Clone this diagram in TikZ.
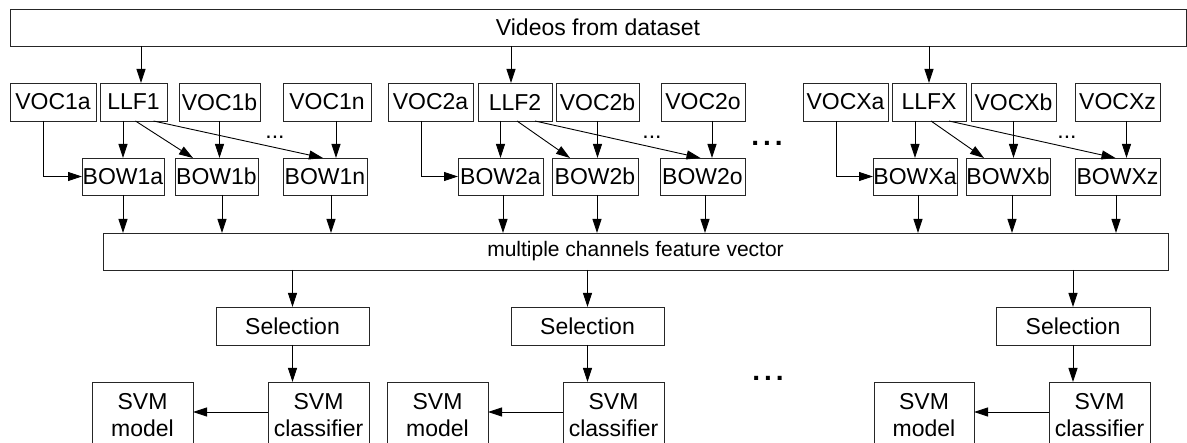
\documentclass[tikz,border=0pt]{standalone}
\usepackage{fontspec}
\setmainfont{Liberation Sans}
\usetikzlibrary{arrows.meta,calc}

\tikzset{
  box/.style={draw=black!85, line width=0.9pt, rectangle, anchor=north west,
    inner sep=0pt, outer sep=0pt, align=center,
    font=\fontsize{23}{27}\selectfont},
  arr/.style={draw=black, line width=0.9pt, -{Triangle[length=14pt,width=9pt]}},
  smalldots/.style={inner sep=0pt, font=\fontsize{23}{27}\selectfont},
  bigdots/.style={inner sep=0pt, font=\fontsize{28}{30}\selectfont\bfseries},
}
% box: name, left, top, width, height, text
\newcommand\boxat[6]{\node[box, minimum width=#4pt, minimum height=#5pt] (#1) at (#2,#3) {#6};}

\begin{document}
\begin{tikzpicture}[x=1pt,y=-1pt]
\useasboundingbox (0,0) rectangle (1187,443);
\clip (0,0) rectangle (1187,443);

% source
\boxat{videos}{10}{9}{1176}{37}{Videos from dataset}

% vocabularies and low-level features
\boxat{voc1a}{10}{83}{86}{38}{VOC1a}
\boxat{llf1}{100}{83}{67}{38}{LLF1}
\boxat{voc1b}{179}{83}{81}{38}{VOC1b}
\boxat{voc1n}{283}{83}{88}{38}{VOC1n}
\boxat{voc2a}{388}{83}{85}{38}{VOC2a}
\boxat{llf2}{478}{83}{74}{38}{LLF2}
\boxat{voc2b}{556}{83}{83}{38}{VOC2b}
\boxat{voc2o}{661}{83}{84}{38}{VOC2o}
\boxat{vocxa}{803}{83}{85}{38}{VOCXa}
\boxat{llfx}{892}{83}{74}{38}{LLFX}
\boxat{vocxb}{971}{83}{85}{38}{VOCXb}
\boxat{vocxz}{1075}{83}{85}{38}{VOCXz}

% bags of words
\boxat{bow1a}{82}{158}{82}{37}{BOW1a}
\boxat{bow1b}{175}{158}{83}{37}{BOW1b}
\boxat{bow1n}{283}{158}{84}{37}{BOW1n}
\boxat{bow2a}{458}{158}{85}{37}{BOW2a}
\boxat{bow2b}{552}{158}{86}{37}{BOW2b}
\boxat{bow2o}{660}{158}{85}{37}{BOW2o}
\boxat{bowxa}{873}{158}{84}{37}{BOWXa}
\boxat{bowxb}{966}{158}{84}{37}{BOWXb}
\boxat{bowxz}{1075}{158}{85}{37}{BOWXz}

% combined vector
\node[box, minimum width=1065pt, minimum height=37pt, font=\fontsize{21}{25}\selectfont]
  (mc) at (103,233) {multiple channels feature vector};

% selection and classifiers
\boxat{sel1}{216}{307}{153}{38}{Selection}
\boxat{sel2}{511}{307}{153}{38}{Selection}
\boxat{sel3}{996}{307}{154}{38}{Selection}
\boxat{svmm1}{92}{382}{101}{66}{SVM\\model}
\boxat{svmc1}{268}{382}{101}{66}{SVM\\classifier}
\boxat{svmm2}{387}{382}{101}{66}{SVM\\model}
\boxat{svmc2}{563}{382}{101}{66}{SVM\\classifier}
\boxat{svmm3}{874}{382}{100}{66}{SVM\\model}
\boxat{svmc3}{1049}{382}{101}{66}{SVM\\classifier}

% ellipses
\node[smalldots] (e1) at (275,137) {...};
\node[smalldots] (e2) at (652,137) {...};
\node[smalldots] (e3) at (1067,137) {...};
\node[bigdots] (g1) at (767,143) {.\hspace{4pt}.\hspace{4pt}.};
\node[bigdots] (g2) at (768,378) {.\hspace{4pt}.\hspace{4pt}.};

% videos to low-level features
\foreach \l/\d in {llf1/7.5, llf2/-4, llfx/0}{
  \coordinate (t) at ($(\l.north)+(\d,0)$);
  \draw[arr] (t |- videos.south) -- (t);
}

% per-channel wiring
\foreach \g/\z in {1/n, 2/o, x/z}{
  \draw[arr] (llf\g.south -| bow\g a.north) -- (bow\g a.north);
  \draw[arr] ($(llf\g.south)+(2,0)$) -- ($(bow\g b.north west)+(18,0)$);
  \draw[arr] ($(llf\g.south)+(20,0)$) -- ($(bow\g\z.north)+(-2,0)$);
  \draw[arr] (voc\g b.south) -- (voc\g b.south |- bow\g b.north);
  \coordinate (vz) at ($(voc\g\z.south)+(9,0)$);
  \draw[arr] (vz) -- (vz |- bow\g\z.north);
  \draw[arr] ($(voc\g a.south)+(-9.5,0)$) |- (bow\g a.west);
}

% bags of words into the combined vector
\foreach \b/\d in {bow1a/0, bow1b/5.5, bow1n/6, bow2a/2.5, bow2b/2, bow2o/2.5,
                   bowxa/3, bowxb/4, bowxz/-1.5}{
  \coordinate (s) at ($(\b.south)+(\d,0)$);
  \draw[arr] (s) -- (s |- mc.north);
}

% selection, classifier, model
\foreach \i in {1,2,3}{
  \draw[arr] (sel\i.north |- mc.south) -- (sel\i.north);
  \draw[arr] (sel\i.south) -- (sel\i.south |- svmc\i.north);
  \draw[arr] ([yshift=3pt]svmc\i.west) -- ([yshift=3pt]svmm\i.east);
}
\end{tikzpicture}
\end{document}
